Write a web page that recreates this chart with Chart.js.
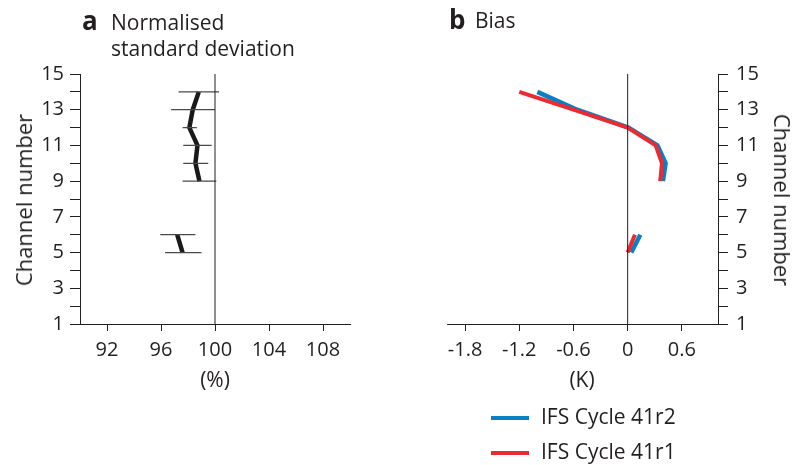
<!DOCTYPE html>
<html>
<head>
<meta charset="utf-8">
<script src="https://cdn.jsdelivr.net/npm/chart.js@4.4.1/dist/chart.umd.min.js"></script>
<style>
body{margin:0;background:#fff;font-family:"Open Sans",sans-serif;color:#231f20}
#wrap{position:relative;width:792px;height:465px;overflow:hidden}
canvas{position:absolute;top:0}
.t{position:absolute;white-space:nowrap;line-height:1}
.rot{position:absolute;white-space:nowrap;line-height:1;font-size:22px}
.key{position:absolute;height:4px;width:38px}
</style>
</head>
<body>
<div id="wrap">
  <canvas id="sdChart" width="400" height="465" style="left:0;width:400px;height:465px"></canvas>
  <canvas id="biasChart" width="392" height="465" style="left:400px;width:392px;height:465px"></canvas>

  <div class="t" style="left:82px;top:7px;font-size:26px;font-weight:700">a</div>
  <div class="t" style="left:111px;top:12px;font-size:21px">Normalised</div>
  <div class="t" style="left:111px;top:38px;font-size:21px">standard deviation</div>
  <div class="t" style="left:449px;top:6px;font-size:26px;font-weight:700">b</div>
  <div class="t" style="left:475px;top:10px;font-size:21px">Bias</div>

  <div class="t" style="left:215px;top:369px;font-size:21px;transform:translateX(-50%)">(%)</div>
  <div class="t" style="left:582px;top:369px;font-size:21px;transform:translateX(-50%)">(K)</div>

  <div class="rot" style="left:23px;top:200px;transform:translate(-50%,-50%) rotate(-90deg)">Channel number</div>
  <div class="rot" style="left:783px;top:200px;transform:translate(-50%,-50%) rotate(90deg)">Channel number</div>

  <div class="key" style="left:491px;top:416px;background:#0b7fc4"></div>
  <div class="t" style="left:541px;top:406px;font-size:21px">IFS Cycle 41r2</div>
  <div class="key" style="left:491px;top:451px;background:#ec2a32"></div>
  <div class="t" style="left:541px;top:441px;font-size:21px">IFS Cycle 41r1</div>
</div>

<script>
// channel numbers (rows), null = no data for that channel
const channels = [5, 6, 7, 8, 9, 10, 11, 12, 13, 14];
const sdValues = [97.6, 97.2, null, null, 98.85, 98.55, 98.7, 98.1, 98.35, 98.8];
const sdLow    = [96.3, 95.95, null, null, 97.6, 97.65, 97.65, 97.6, 96.75, 97.3];
const sdHigh   = [99.0, 98.55, null, null, 100.1, 99.5, 99.75, 98.65, 100.0, 100.3];
const biasR2   = [0.04, 0.14, null, null, 0.39, 0.42, 0.33, 0.01, -0.56, -1.0];
const biasR1   = [0.0, 0.08, null, null, 0.36, 0.38, 0.31, 0.0, -0.6, -1.2];

const channelTicks = [1,2,3,4,5,6,7,8,9,10,11,12,13,14,15];
const sdTicks = [92, 96, 100, 104, 108];
const biasTicks = [-1.8, -1.2, -0.6, 0, 0.6];
const sdRef = 100;
const biasRef = 0;

const INK = '#231f20';
const FONT = {family: '"Open Sans", sans-serif', size: 20};

function series(vals){
  return channels.map((c,i)=> vals[i]==null ? {x:0, y:null} : {x:vals[i], y:c});
}
function refLine(v){
  return [{x:v, y:channelTicks[0]}, {x:v, y:channelTicks[channelTicks.length-1]}];
}
function errorBars(){
  const pts = [];
  channels.forEach((c,i)=>{
    if(sdLow[i]==null) return;
    pts.push({x:sdLow[i], y:c}, {x:sdHigh[i], y:c}, {x:0, y:null});
  });
  return pts;
}

function xScale(min, max, tickVals, fmt){
  return {
    type:'linear', min:min, max:max,
    afterBuildTicks: s=>{ s.ticks = tickVals.map(v=>({value:v})); },
    afterFit: s=>{ s.height = 141; },
    grid:{display:true, drawOnChartArea:false, drawTicks:true, tickLength:7, color:INK, lineWidth:1},
    border:{display:true, color:INK, width:1},
    ticks:{font:FONT, color:INK, padding:7, maxRotation:0, autoSkip:false, callback: fmt}
  };
}
function yScale(pos, w, pad){
  return {
    type:'linear', position:pos, min:1, max:15,
    afterBuildTicks: s=>{ s.ticks = channelTicks.map(v=>({value:v})); },
    afterFit: s=>{ s.width = w; },
    grid:{display:true, drawOnChartArea:false, drawTicks:true, tickLength:10, color:INK, lineWidth:1},
    border:{display:true, color:INK, width:1},
    ticks:{font:FONT, color:INK, padding:pad, autoSkip:false, callback: v=> (v%2===1 ? String(v) : '')}
  };
}

const common = {
  responsive:false, animation:false,
  plugins:{legend:{display:false}, tooltip:{enabled:false}},
  elements:{point:{radius:0}, line:{tension:0, borderJoinStyle:'round'}}
};

new Chart(document.getElementById('sdChart'), {
  type:'line',
  data:{datasets:[
    {data: refLine(sdRef), borderColor:INK, borderWidth:1},
    {data: errorBars(), borderColor:'#4a4a4a', borderWidth:1.3, spanGaps:false},
    {data: series(sdValues), borderColor:'#1a1a1a', borderWidth:4.5, spanGaps:false}
  ]},
  options:Object.assign({}, common, {
    layout:{padding:{top:74, right:50, left:0, bottom:0}},
    scales:{
      x: xScale(90, 110, sdTicks, v=>String(v)),
      y: yScale('left', 80, 6)
    }
  })
});

new Chart(document.getElementById('biasChart'), {
  type:'line',
  data:{datasets:[
    {data: refLine(biasRef), borderColor:INK, borderWidth:1},
    {data: series(biasR1), borderColor:'#ec2a32', borderWidth:4, spanGaps:false},
    {data: series(biasR2), borderColor:'#0b7fc4', borderWidth:4.5, spanGaps:false}
  ]},
  options:Object.assign({}, common, {
    layout:{padding:{top:74, right:0, left:47, bottom:0}},
    scales:{
      x: xScale(-2, 1, biasTicks, v=> v===0 ? '0' : String(Math.round(v*10)/10)),
      y: yScale('right', 74, 8)
    }
  })
});
</script>
</body>
</html>
